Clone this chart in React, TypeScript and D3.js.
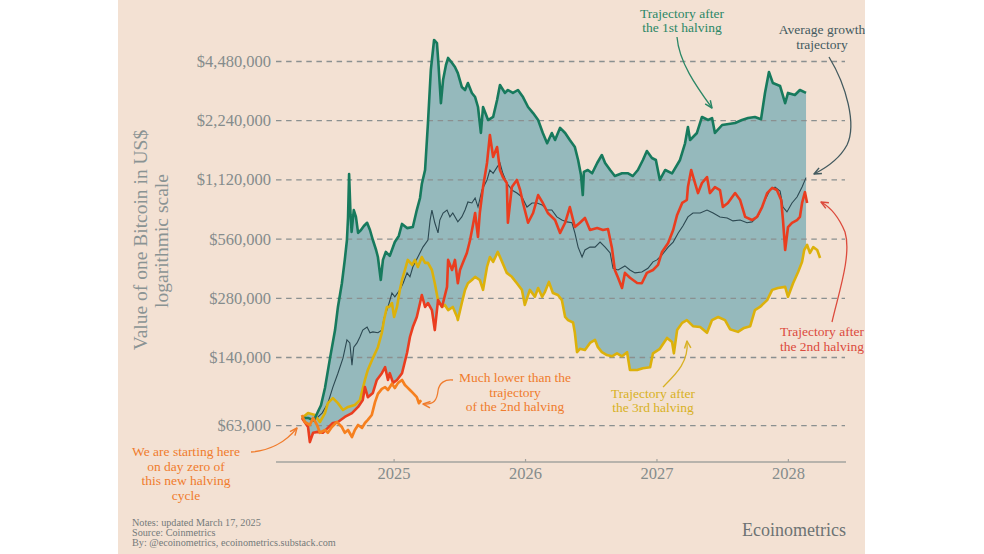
import * as d3 from 'd3';

// [days since the April 2024 halving, price in thousands of US$]
type Pt = [number, number];

const HALVING = new Date(2024, 3, 20);

const firstHalving: Pt[] = [
  [0, 69], [17, 69], [33, 67], [44, 74], [53, 80], [64, 98], [78, 139], [92, 193], [100, 253], [111, 334],
  [119, 439], [125, 554], [128, 717], [131, 1200], [135, 743], [138, 609], [144, 787], [150, 726], [156, 602],
  [164, 623], [172, 653], [181, 678], [189, 623], [197, 554], [206, 493], [211, 454], [219, 347], [225, 439],
  [233, 482], [244, 460], [258, 541], [269, 581], [278, 669], [292, 637], [308, 645], [319, 787], [328, 906],
  [333, 1068], [342, 1258], [350, 2179], [358, 4055], [367, 5762], [375, 5560], [379, 4400], [386, 2750],
  [392, 3607], [400, 4300], [406, 4670], [417, 4400], [425, 4200], [433, 3910], [444, 3325], [453, 3209],
  [461, 3480], [472, 3100], [481, 2955], [489, 2630], [497, 1940], [503, 2630], [517, 2258], [531, 2340],
  [542, 2854], [550, 3402], [564, 3100], [572, 3209], [586, 3100], [600, 3209], [614, 2955], [628, 2630],
  [642, 2450], [656, 2258], [669, 1940], [681, 1720], [694, 1940], [703, 1787], [717, 2060], [731, 1940],
  [744, 1787], [758, 1645], [767, 1414], [775, 1186], [780, 938], [783, 1230], [794, 1258], [806, 1210],
  [820, 1365], [833, 1499], [842, 1365], [856, 1258], [869, 1172], [889, 1210], [906, 1210], [919, 1172],
  [933, 1258], [947, 1414], [958, 1570], [972, 1447], [983, 1414], [994, 1119], [1009, 1258], [1028, 1210],
  [1050, 1414], [1064, 1720], [1072, 2080], [1078, 1787], [1097, 1940], [1111, 2340], [1128, 2258],
  [1139, 2310], [1147, 1940], [1167, 2130], [1203, 2180], [1222, 2258], [1239, 2310], [1258, 2340],
  [1275, 2280], [1286, 3100], [1297, 3960], [1308, 3480], [1328, 3360], [1342, 2750], [1350, 3100],
  [1369, 3026], [1383, 3209], [1400, 3100],
];

const secondHalving: Pt[] = [
  [0, 69], [17, 62], [22, 52], [31, 58], [44, 58.6], [58, 58], [72, 61.4], [86, 65], [100, 65.8], [119, 69.8],
  [139, 73], [156, 78.5], [169, 85], [175, 99], [183, 88], [197, 92.5], [208, 107.6], [222, 116.5], [231, 125],
  [239, 107.6], [244, 116.5], [253, 104], [264, 107.6], [278, 116.5], [292, 148], [300, 178], [308, 200],
  [319, 225], [328, 265], [333, 291], [342, 253], [350, 265], [361, 244], [369, 193], [378, 274], [389, 253],
  [403, 320], [406, 439], [417, 390], [425, 439], [433, 334], [439, 390], [447, 424], [458, 476], [467, 554],
  [475, 661], [481, 760], [489, 574], [494, 760], [503, 1030], [514, 1365], [522, 1895], [531, 1465],
  [542, 1645], [550, 1258], [558, 1158], [569, 1080], [572, 678], [583, 1030], [597, 1119], [606, 995],
  [614, 855], [628, 678], [642, 760], [656, 938], [669, 855], [683, 760], [703, 700], [717, 602], [731, 678],
  [744, 815], [758, 645], [772, 678], [786, 717], [800, 623], [820, 637], [836, 623], [850, 630], [861, 505],
  [869, 390], [878, 356], [889, 316], [897, 377], [911, 356], [931, 335], [944, 334], [958, 377], [975, 390],
  [989, 414], [1000, 482], [1017, 535], [1031, 623], [1042, 743], [1056, 855], [1069, 885], [1072, 1030],
  [1081, 1258], [1089, 1119], [1100, 960], [1111, 1080], [1125, 1158], [1133, 960], [1147, 1030],
  [1161, 995], [1169, 815], [1183, 855], [1203, 960], [1217, 885], [1231, 726], [1250, 700], [1264, 726],
  [1278, 815], [1292, 960], [1306, 1020], [1319, 995], [1331, 885], [1336, 700], [1342, 493], [1350, 645],
  [1361, 678], [1375, 700], [1383, 726], [1389, 855], [1397, 970], [1403, 855],
];

const thirdHalving: Pt[] = [
  [0, 69], [17, 73], [36, 71.4], [50, 65.8], [64, 73], [72, 82], [86, 87], [100, 82], [114, 75.7], [128, 78.5],
  [147, 80.3], [161, 85], [175, 107.6], [183, 121], [197, 139], [211, 158], [222, 187], [228, 217], [236, 253],
  [242, 253], [250, 265], [256, 225], [264, 253], [272, 309], [278, 347], [286, 390], [294, 439], [306, 414],
  [314, 439], [322, 404], [333, 454], [342, 424], [350, 424], [361, 390], [369, 334], [378, 274], [389, 253],
  [397, 259], [406, 244], [419, 253], [431, 225], [433, 217], [444, 265], [453, 309], [461, 334], [472, 347],
  [481, 360], [494, 347], [503, 309], [514, 404], [522, 454], [531, 429], [544, 482], [556, 429], [569, 377],
  [583, 360], [597, 334], [611, 309], [619, 259], [633, 309], [647, 285], [656, 316], [667, 285], [675, 302],
  [686, 339], [697, 298], [711, 291], [722, 274], [731, 225], [739, 217], [753, 211], [758, 187], [764, 149],
  [772, 155], [786, 153], [800, 166], [814, 172], [822, 158], [833, 149], [847, 144], [861, 142], [875, 147],
  [889, 142], [903, 149], [911, 121], [931, 121], [947, 123.5], [967, 125], [975, 147], [994, 155],
  [1014, 176], [1028, 168], [1033, 147], [1042, 193], [1056, 210], [1069, 217], [1086, 202], [1106, 200],
  [1125, 187], [1139, 217], [1156, 225], [1175, 217], [1189, 195], [1211, 189], [1228, 198], [1245, 202],
  [1258, 244], [1272, 253], [1292, 274], [1306, 309], [1322, 316], [1342, 320], [1350, 285], [1364, 334],
  [1378, 381], [1389, 429], [1395, 493], [1403, 523], [1411, 476], [1420, 510], [1431, 493], [1439, 449],
];

const averageGrowth: Pt[] = [
  [0, 69], [17, 69], [36, 67.4], [56, 73], [72, 82], [86, 99], [100, 116.5], [114, 139], [125, 172], [133, 166],
  [139, 128], [144, 158], [153, 166], [161, 178], [169, 193], [181, 200], [189, 187], [197, 189], [211, 187],
  [222, 193], [228, 222], [239, 253], [250, 298], [258, 285], [272, 309], [281, 334], [292, 377], [300, 360],
  [308, 404], [322, 454], [336, 510], [350, 554], [356, 700], [361, 787], [369, 678], [378, 602], [383, 700],
  [392, 760], [403, 787], [411, 726], [419, 760], [433, 685], [444, 726], [453, 787], [461, 865], [472, 855],
  [481, 906], [489, 815], [500, 995], [514, 1119], [522, 1258], [531, 1210], [542, 1300], [550, 1365],
  [558, 1210], [569, 1080], [583, 995], [597, 960], [611, 917], [625, 815], [639, 855], [653, 855], [667, 835],
  [681, 787], [694, 787], [708, 726], [722, 700], [736, 685], [750, 678], [758, 602], [767, 510], [778, 454],
  [786, 493], [800, 510], [814, 510], [828, 541], [842, 510], [856, 476], [864, 398], [878, 390], [897, 409],
  [911, 390], [925, 377], [944, 381], [961, 398], [975, 429], [986, 439], [1000, 465], [1017, 510],
  [1031, 541], [1045, 602], [1058, 653], [1072, 726], [1086, 760], [1106, 760], [1125, 787], [1142, 760],
  [1161, 726], [1181, 717], [1197, 693], [1217, 700], [1236, 678], [1250, 685], [1267, 735], [1286, 885],
  [1300, 995], [1314, 1030], [1328, 983], [1336, 815], [1347, 770], [1361, 855], [1375, 917], [1389, 1030],
  [1400, 1150],
];

const currentCycle: Pt[] = [
  [0, 71.4], [8, 65.8], [22, 63.5], [31, 69], [42, 63.5], [50, 58], [64, 59.9], [72, 58], [83, 62], [97, 65.8],
  [111, 62], [119, 58], [128, 59.9], [139, 55.2], [147, 59.9], [156, 63.5], [167, 61.4], [175, 65], [183, 67.4],
  [194, 71.4], [203, 83], [211, 91.4], [222, 97], [231, 99], [239, 95.7], [250, 103], [258, 98], [267, 104],
  [278, 107.6], [286, 101.5], [292, 99], [300, 95.7], [308, 92.5], [319, 88], [325, 82], [331, 85],
];

const Y_TICKS = [63000, 140000, 280000, 560000, 1120000, 2240000, 4480000];
const YEARS = [2025, 2026, 2027, 2028];
const BAND_END_DAY = 1400;

const NOTES = [
  'Notes: updated March 17, 2025',
  'Source: Coinmetrics',
  'By: @ecoinometrics, ecoinometrics.substack.com',
];

const SERIF = '"Liberation Serif", "DejaVu Serif", serif';
const BG = '#f3e1d3';
const GREEN = '#177a5d';
const RED = '#ea3d1f';
const YELLOW = '#dcb10b';
const ORANGE = '#f6801f';
const SLATE = '#2c4851';
const BAND = '#95b9bc';
const GRAY = '#858c8c';

const x = d3.scaleTime().domain([new Date(2024, 1, 8), new Date(2028, 5, 9)]).range([276, 846]);
const y = d3.scaleLog().domain([63000, 4480000]).range([425.7, 61.5]);

const dayDate = (d: number) => new Date(HALVING.getTime() + d * 864e5);
const px = (p: Pt) => x(dayDate(p[0]));
const py = (p: Pt) => y(p[1] * 1000);
const line = d3.line<Pt>().x(px).y(py);

// log-space value of a series at a given day (for the min/max band)
function valueAt(s: Pt[], d: number) {
  if (d <= s[0][0]) return s[0][1];
  for (let i = 1; i < s.length; i++) {
    if (s[i][0] >= d) {
      const [d0, v0] = s[i - 1], [d1, v1] = s[i];
      const t = (d - d0) / (d1 - d0);
      return Math.exp(Math.log(v0) + t * (Math.log(v1) - Math.log(v0)));
    }
  }
  return s[s.length - 1][1];
}

const hist = [firstHalving, secondHalving, thirdHalving];
const bandDays = Array.from(new Set(hist.flatMap(s => s.map(p => p[0]))))
  .filter(d => d <= BAND_END_DAY).sort((a, b) => a - b);
const bandRows = bandDays.map(d => {
  const vals = hist.map(s => valueAt(s, d));
  return { d, lo: Math.min(...vals), hi: Math.max(...vals) };
});
const band = d3.area<typeof bandRows[0]>()
  .x(r => x(dayDate(r.d)))
  .y0(r => y(r.lo * 1000))
  .y1(r => y(r.hi * 1000));

const fmt = d3.format('$,');

const LINE_GAP = 14.6;
const ANNOTATIONS = [
  { lines: ['Trajectory after', 'the 1st halving'], cx: 682, mid: 20.5, color: '#2b8766', arrow: 'M677,37 C679,62 696,86 712,108' },
  { lines: ['Average growth', 'trajectory'], cx: 822, mid: 37, color: '#435a5f', arrow: 'M829,57 C846,85 857,124 847,145 C839,160 826,168 814,174' },
  { lines: ['Trajectory after', 'the 2nd halving'], cx: 822, mid: 339, color: '#dc4a3c', arrow: 'M832,322 C838,295 852,255 845,232 C838,215 830,207 821,202' },
  { lines: ['Trajectory after', 'the 3rd halving'], cx: 653, mid: 400.5, color: '#d8b124', arrow: 'M663,387 C676,374 689,362 687,341' },
  { lines: ['Much lower than the', 'trajectory', 'of the 2nd halving'], cx: 515, mid: 392, color: '#f07c2d', arrow: 'M453,380 C445,379 439,383 438,391 C437,400 434,405 423,404' },
  { lines: ['We are starting here', 'on day zero of', 'this new halving', 'cycle'], cx: 186, mid: 473.5, color: '#f07c2d', arrow: 'M251,452 C268,451 285,443 297,428' },
];

export default function App() {
  return (
    <svg width={984} height={554} style={{ position: 'absolute', left: 0, top: 0, background: '#fff' }} fontFamily={SERIF}>
      <defs>
        <clipPath id="panel"><rect x={118} y={0} width={747} height={554} /></clipPath>
        {ANNOTATIONS.map((a, i) => (
          <marker key={i} id={`head${i}`} viewBox="0 0 10 10" refX={9} refY={5} markerWidth={7} markerHeight={7} orient="auto">
            <path d="M1,1.5 L9,5 L1,8.5" fill="none" stroke={a.color} strokeWidth={1.6} strokeLinejoin="round" />
          </marker>
        ))}
      </defs>
      <g clipPath="url(#panel)">
        <rect x={118} y={0} width={747} height={554} fill={BG} />

        <path d={band(bandRows) ?? ''} fill={BAND} />

        {Y_TICKS.map(t => (
          <g key={t}>
            <line x1={276} x2={845} y1={y(t)} y2={y(t)} stroke="#8a9090" strokeWidth={1.3} strokeDasharray="5.5 4.6" />
            <text x={271} y={y(t)} textAnchor="end" dominantBaseline="central" fontSize={16.5} fill={GRAY}>{fmt(t)}</text>
          </g>
        ))}

        <line x1={276} x2={846} y1={462} y2={462} stroke="#a3a39f" strokeWidth={1.6} />
        {YEARS.map(yr => {
          const xx = x(new Date(yr, 0, 1));
          return (
            <g key={yr}>
              <line x1={xx} x2={xx} y1={459} y2={462} stroke="#a3a39f" strokeWidth={1.2} />
              <text x={xx} y={473} textAnchor="middle" dominantBaseline="central" fontSize={16.5} fill={GRAY}>{yr}</text>
            </g>
          );
        })}

        <path d={line(averageGrowth) ?? ''} fill="none" stroke={SLATE} strokeWidth={1.1} />
        <path d={line(thirdHalving) ?? ''} fill="none" stroke={YELLOW} strokeWidth={2.6} strokeLinejoin="round" />
        <path d={line(secondHalving) ?? ''} fill="none" stroke={RED} strokeWidth={2.6} strokeLinejoin="round" />
        <path d={line(firstHalving) ?? ''} fill="none" stroke={GREEN} strokeWidth={2.6} strokeLinejoin="round" />
        <path d={line(currentCycle) ?? ''} fill="none" stroke={ORANGE} strokeWidth={2.7} strokeLinejoin="round" />

        <g transform="translate(140,240) rotate(-90)">
          <text textAnchor="middle" dominantBaseline="central" fontSize={19.5} fill="#8a9393">Value of one Bitcoin in US$</text>
        </g>
        <g transform="translate(161,241) rotate(-90)">
          <text textAnchor="middle" dominantBaseline="central" fontSize={19.5} fill="#8a9393">logarithmic scale</text>
        </g>

        {ANNOTATIONS.map((a, i) => (
          <g key={i}>
            <path d={a.arrow} fill="none" stroke={a.color} strokeWidth={1.3} markerEnd={`url(#head${i})`} />
            {a.lines.map((s, j) => (
              <text key={j} x={a.cx} y={a.mid + (j - (a.lines.length - 1) / 2) * LINE_GAP}
                textAnchor="middle" dominantBaseline="central" fontSize={13.5} fill={a.color}>{s}</text>
            ))}
          </g>
        ))}

        {NOTES.map((s, i) => (
          <text key={i} x={132} y={522 + i * 10.2} dominantBaseline="central" fontSize={10.2} fill="#737a7a">{s}</text>
        ))}
        <text x={846} y={530} textAnchor="end" dominantBaseline="central" fontSize={18} fill="#6d7373">Ecoinometrics</text>
      </g>
    </svg>
  );
}
